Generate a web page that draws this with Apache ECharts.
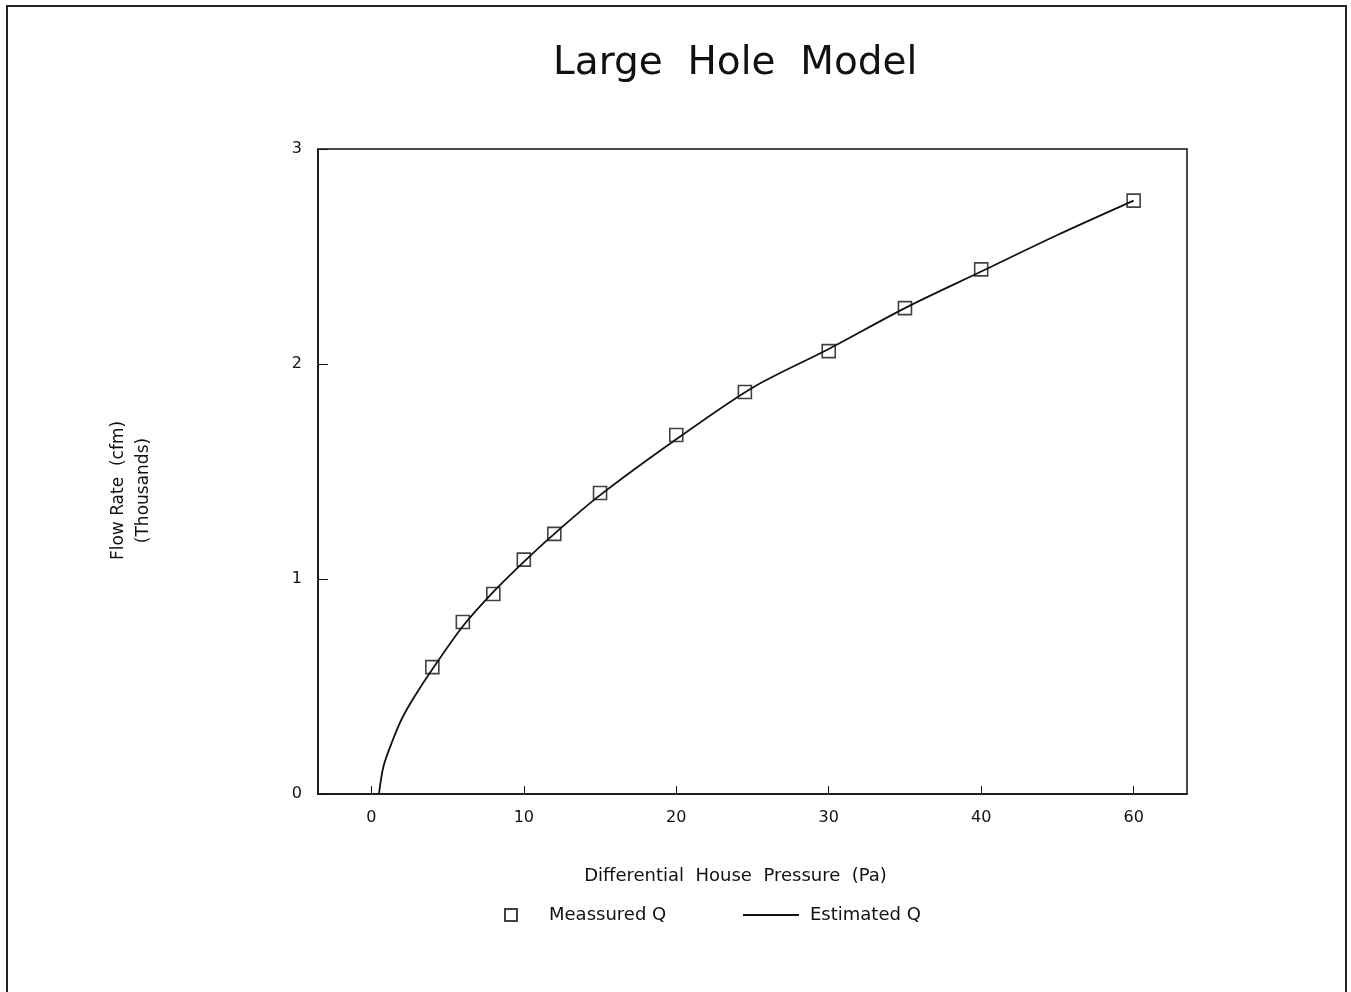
<!DOCTYPE html>
<html>
<head>
<meta charset="utf-8">
<script src="https://cdn.jsdelivr.net/npm/echarts@6/dist/echarts.min.js"></script>
<style>
  html, body { margin: 0; padding: 0; background: #fff; }
  #chart { width: 1351px; height: 992px; }
</style>
</head>
<body>
<div id="chart"></div>
<script>
// measured points (Pa, thousands cfm)
const measuredX = [4, 6, 8, 10, 12, 15, 20, 24.5, 30, 35, 40, 50];
const measuredY = [0.59, 0.80, 0.93, 1.09, 1.21, 1.40, 1.67, 1.87, 2.06, 2.26, 2.44, 2.76];
// estimated curve
const estimatedX = [0.5, 0.8, 1.4, 2, 2.8, 4, 6, 8, 10, 12, 15, 20, 25, 30, 35, 40, 45, 50];
const estimatedY = [0, 0.13, 0.25, 0.35, 0.45, 0.58, 0.78, 0.94, 1.08, 1.21, 1.39, 1.65, 1.89, 2.07, 2.26, 2.43, 2.60, 2.76];
// x axis ticks and their printed labels
const xTickValues = [0, 10, 20, 30, 40, 50];
const xTickLabels = ['0', '10', '20', '30', '40', '60'];

const font = 'DejaVu Sans';
const ink = '#111';

const chart = echarts.init(document.getElementById('chart'));
const option = {
    backgroundColor: '#fff',
    animation: false,
    title: {
        text: 'Large  Hole  Model',
        left: 548,
        top: 39,
        textStyle: { fontFamily: font, fontWeight: 'normal', fontSize: 39, color: ink }
    },
    graphic: [{
        type: 'rect',
        shape: { x: 7, y: 6, width: 1339, height: 1000 },
        style: { fill: 'none', stroke: '#222', lineWidth: 2 }
    }],
    grid: {
        left: 318, right: 164, top: 149, bottom: 198,
        show: true, borderColor: ink, borderWidth: 1.5,
        containLabel: false
    },
    legend: [{
        data: ['Meassured Q'],
        left: 499, top: 901,
        itemWidth: 12, itemHeight: 12,
        textStyle: { fontFamily: font, fontSize: 18, color: ink, padding: [0, 0, 0, 27] }
    }, {
        data: [{ name: 'Estimated Q', icon: 'rect' }],
        left: 738, top: 901,
        itemWidth: 56, itemHeight: 2,
        textStyle: { fontFamily: font, fontSize: 18, color: ink, padding: [0, 0, 0, 6] }
    }],
    xAxis: {
        type: 'value',
        min: -3.5, max: 53.5,
        name: 'Differential  House  Pressure  (Pa)',
        nameLocation: 'middle',
        nameGap: 73,
        nameTextStyle: { fontFamily: font, fontSize: 18, color: ink, padding: [0, 34, 0, 0] },
        axisLine: { onZero: false, lineStyle: { color: ink, width: 1.5 } },
        axisTick: { inside: true, length: 8, customValues: xTickValues, lineStyle: { color: ink } },
        axisLabel: {
            margin: 16,
            customValues: xTickValues,
            fontFamily: font, fontSize: 16, color: ink,
            formatter: v => xTickLabels[xTickValues.indexOf(v)]
        },
        splitLine: { show: false }
    },
    yAxis: {
        type: 'value',
        min: 0, max: 3, interval: 1,
        name: 'Flow Rate  (cfm)\n(Thousands)',
        nameLocation: 'middle',
        nameGap: 162,
        nameRotate: 90,
        nameTextStyle: { fontFamily: font, fontSize: 17, color: ink, lineHeight: 25, padding: [0, 38, 0, 0] },
        axisLine: { onZero: false, lineStyle: { color: ink, width: 1.5 } },
        axisTick: { inside: true, length: 10, lineStyle: { color: ink } },
        axisLabel: { margin: 16, fontFamily: font, fontSize: 16, color: ink },
        splitLine: { show: false }
    },
    series: [{
        name: 'Estimated Q',
        type: 'line',
        smooth: 0.3,
        showSymbol: false,
        symbol: 'none',
        lineStyle: { color: ink, width: 1.8 },
        itemStyle: { color: ink },
        data: estimatedX.map((x, i) => [x, estimatedY[i]]),
        z: 2
    }, {
        name: 'Meassured Q',
        type: 'scatter',
        symbol: 'rect',
        symbolSize: 13,
        itemStyle: { color: 'rgba(0,0,0,0)', borderColor: ink, borderWidth: 1.6 },
        data: measuredX.map((x, i) => [x, measuredY[i]]),
        z: 3
    }]
};
chart.setOption(option);
</script>
</body>
</html>
